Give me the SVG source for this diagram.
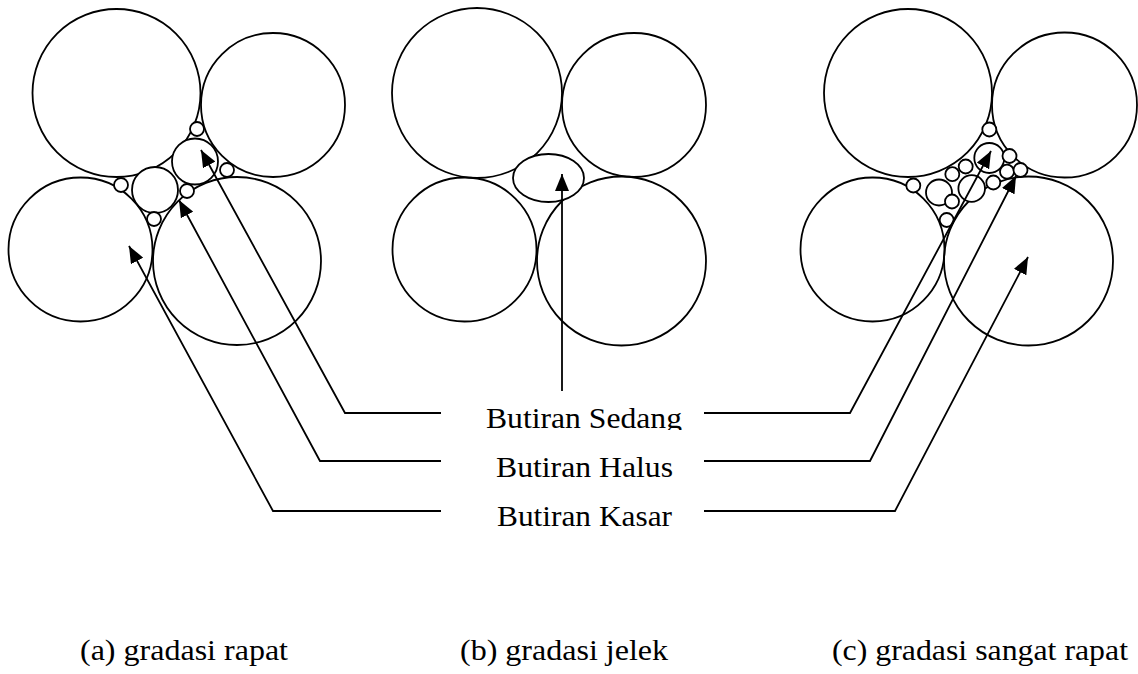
<svg xmlns="http://www.w3.org/2000/svg" width="1138" height="674" viewBox="0 0 1138 674">
<style>
.c{fill:none;stroke:#000;stroke-width:1.8}
.s{fill:#fff;stroke:#000;stroke-width:1.8}
.l{fill:none;stroke:#000;stroke-width:1.8}
.t{font-family:"Liberation Serif","Times New Roman",serif;font-size:30px;fill:#000}
</style>
<defs>
<marker id="ah" markerUnits="userSpaceOnUse" markerWidth="18" markerHeight="14" refX="17" refY="7" orient="auto">
<path d="M0,0 L17,7 L0,14 z" fill="#000"/>
</marker>
<clipPath id="clipS"><rect x="0" y="380" width="1138" height="50"/></clipPath>
</defs>
<rect width="1138" height="674" fill="#fff"/>

<g id="panel-a">
<circle class="c" cx="116.5" cy="93" r="84"/>
<circle class="c" cx="273" cy="105" r="72"/>
<circle class="c" cx="80.5" cy="249.5" r="72"/>
<circle class="c" cx="237" cy="261" r="84"/>
<circle class="s" cx="155" cy="190" r="23"/>
<circle class="s" cx="195" cy="161.5" r="23"/>
<circle class="s" cx="197" cy="129" r="7"/>
<circle class="s" cx="227" cy="170" r="7"/>
<circle class="s" cx="187" cy="191" r="7"/>
<circle class="s" cx="121" cy="185" r="7"/>
<circle class="s" cx="154" cy="219" r="7"/>
</g>

<g id="panel-b">
<circle class="c" cx="477" cy="93" r="85"/>
<circle class="c" cx="634" cy="105" r="72"/>
<circle class="c" cx="464.5" cy="249.5" r="72"/>
<circle class="c" cx="621.5" cy="261" r="84.5"/>
<ellipse class="s" cx="548.5" cy="178" rx="35.5" ry="24"/>
</g>

<g id="panel-c">
<circle class="c" cx="908" cy="93" r="84"/>
<circle class="c" cx="1064.5" cy="105" r="72.5"/>
<circle class="c" cx="872.5" cy="249.5" r="72"/>
<circle class="c" cx="1028.5" cy="261" r="84.5"/>
<circle class="s" cx="989.3" cy="129.5" r="7"/>
<circle class="s" cx="989.3" cy="158" r="15"/>
<circle class="s" cx="1009.5" cy="156" r="7"/>
<circle class="s" cx="1007" cy="171.7" r="7"/>
<circle class="s" cx="1020.5" cy="170" r="7"/>
<circle class="s" cx="993.3" cy="182.5" r="7"/>
<circle class="s" cx="965.7" cy="166.5" r="7"/>
<circle class="s" cx="952.3" cy="174.2" r="7"/>
<circle class="s" cx="971.7" cy="188.5" r="13.3"/>
<circle class="s" cx="939" cy="192.5" r="13"/>
<circle class="s" cx="952" cy="201.5" r="7"/>
<circle class="s" cx="946.7" cy="220" r="7"/>
<circle class="s" cx="913.3" cy="185.5" r="7"/>
</g>

<g id="connectors">
<polyline class="l" points="441,413 345,413 201,150" marker-end="url(#ah)"/>
<polyline class="l" points="441,461 320,461 179,200" marker-end="url(#ah)"/>
<polyline class="l" points="441,511 273,511 129,246" marker-end="url(#ah)"/>
<line class="l" x1="562" y1="391" x2="562" y2="174" marker-end="url(#ah)"/>
<polyline class="l" points="704,413 850,413 991,151" marker-end="url(#ah)"/>
<polyline class="l" points="704,461 870,461 1016,176" marker-end="url(#ah)"/>
<polyline class="l" points="704,511 895,511 1028,257" marker-end="url(#ah)"/>
</g>

<g id="labels">
<text class="t" x="486" y="428" textLength="196" lengthAdjust="spacingAndGlyphs" clip-path="url(#clipS)">Butiran Sedang</text>
<text class="t" x="496" y="477" textLength="177" lengthAdjust="spacingAndGlyphs">Butiran Halus</text>
<text class="t" x="497" y="526" textLength="175" lengthAdjust="spacingAndGlyphs">Butiran Kasar</text>
</g>

<g id="captions">
<text class="t" x="80" y="660" textLength="208" lengthAdjust="spacingAndGlyphs">(a) gradasi rapat</text>
<text class="t" x="460" y="660" textLength="208" lengthAdjust="spacingAndGlyphs">(b) gradasi jelek</text>
<text class="t" x="832" y="660" textLength="296" lengthAdjust="spacingAndGlyphs">(c) gradasi sangat rapat</text>
</g>
</svg>
